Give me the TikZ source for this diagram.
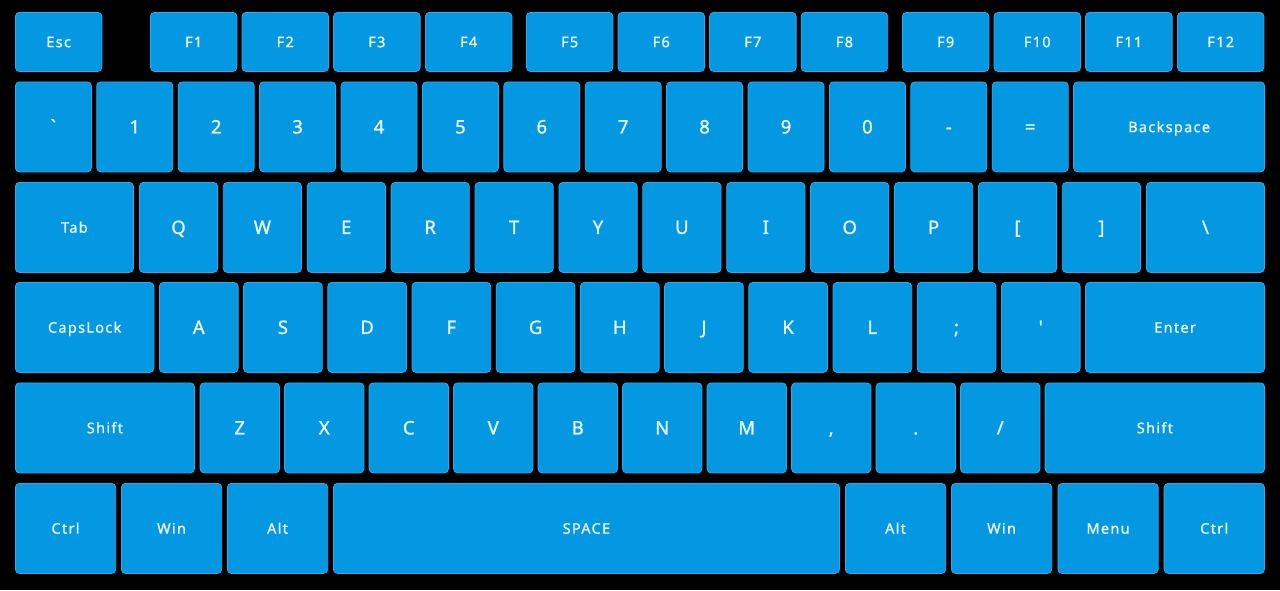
\documentclass[tikz,border=0pt]{standalone}
\usepackage{fontspec}
\newfontfamily\keyfont{Noto Sans}[LetterSpace=9, FakeBold=1.2]
\newfontfamily\bigkeyfont{Noto Sans}[FakeBold=1.2]
\definecolor{keyblue}{RGB}{4,152,226}
\definecolor{keyedge}{RGB}{50,168,232}
\definecolor{keytext}{RGB}{236,246,253}
\begin{document}
\begin{tikzpicture}[x=1pt,y=-1pt,
  key/.style={draw=keyedge, fill=keyblue, rounded corners=4pt, line width=0.8pt,
    anchor=north west, inner sep=0pt, text=keytext},
  big/.style={font=\bigkeyfont\fontsize{18.5}{18.5}\selectfont, text height=13pt, text depth=0pt},
  small/.style={font=\keyfont\fontsize{14.5}{14.5}\selectfont, text height=10.5pt, text depth=0pt},
  fk/.style={key, small, minimum width=86.5, minimum height=59},
  hk/.style={minimum height=90}]
\path[fill=black, use as bounding box] (0,0) rectangle (1280,590);
% function row
\node[fk] (esc) at (15,12) {Esc};
\foreach \lab/\xx [count=\i] in {F1/150, F2/241.6, F3/333.2, F4/425, F5/526, F6/617.6, F7/709.2, F8/800.8, F9/902, F10/993.6, F11/1085.2, F12/1177}
  \node[fk] (f\i) at (\xx,12) {\lab};
% number row
\foreach \lab [count=\i] in {\textasciigrave,1,2,3,4,5,6,7,8,9,0,-,=}
  \node[key, big, hk, minimum width=76] (n\i) at ({15+(\i-1)*81.4},81.5) {\lab};
\node[key, small, hk, minimum width=191] (backspace) at (1073.2,81.5) {Backspace};
% tab row
\node[key, small, hk, minimum width=118] (tab) at (15,182) {Tab};
\foreach \lab [count=\i] in {Q,W,E,R,T,Y,U,I,O,P,[,]}
  \node[key, big, hk, minimum width=78.2] (q\i) at ({139+(\i-1)*83.9},182) {\lab};
\node[key, big, hk, minimum width=118] (bslash) at (1146,182) {\textbackslash};
% caps row
\node[key, small, hk, minimum width=138.5] (caps) at (15,282) {CapsLock};
\foreach \lab [count=\i] in {A,S,D,F,G,H,J,K,L,;,\textquotesingle}
  \node[key, big, hk, minimum width=78.7] (a\i) at ({159+(\i-1)*84.2},282) {\lab};
\node[key, small, hk, minimum width=179] (enter) at (1085.2,282) {Enter};
% shift row
\node[key, small, hk, minimum width=179] (lshift) at (15,382.5) {Shift};
\foreach \lab [count=\i] in {Z,X,C,V,B,N,M,{,},.,/}
  \node[key, big, hk, minimum width=79.3] (z\i) at ({199.7+(\i-1)*84.5},382.5) {\lab};
\node[key, small, hk, minimum width=219.5] (rshift) at (1044.7,382.5) {Shift};
% bottom row
\foreach \lab/\xx/\w [count=\i] in {Ctrl/15/100.3, Win/121/100.3, Alt/227/100.3, SPACE/333/506, Alt/845/100.3, Win/951/100.3, Menu/1057.5/100.3, Ctrl/1163.7/100.3}
  \node[key, small, hk, minimum width=\w] (b\i) at (\xx,483) {\lab};
\end{tikzpicture}
\end{document}
